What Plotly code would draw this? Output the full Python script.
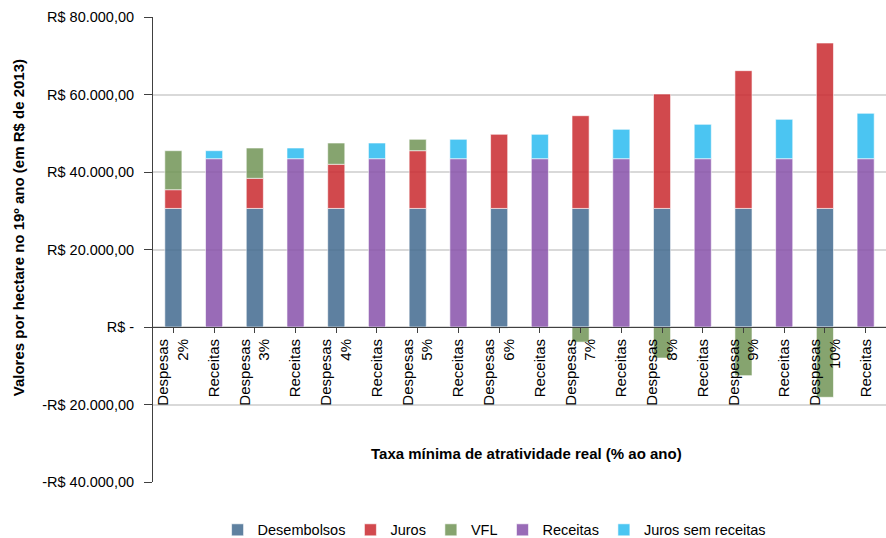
import plotly.graph_objects as go

# ---- data ----
taxas = ["2%", "3%", "4%", "5%", "6%", "7%", "8%", "9%", "10%"]
desembolsos = [30600, 30600, 30600, 30600, 30600, 30600, 30600, 30600, 30600]
juros = [4830, 7770, 11390, 14900, 19130, 23930, 29530, 35550, 42690]
vfl = [10070, 7820, 5490, 2940, -300, -3900, -8000, -12560, -18140]
receitas = [43430, 43430, 43430, 43430, 43430, 43430, 43430, 43430, 43430]
juros_sem_receitas = [2070, 2760, 4050, 5010, 6300, 7590, 8880, 10170, 11720]

y_tickvals = [-40000, -20000, 0, 20000, 40000, 60000, 80000]
y_ticktext = ["-R$ 40.000,00", "-R$ 20.000,00", "R$ -", "R$ 20.000,00",
              "R$ 40.000,00", "R$ 60.000,00", "R$ 80.000,00"]

# category positions: Despesas / Receitas alternate for each rate
x_desp = [2 * i for i in range(len(taxas))]
x_rec = [2 * i + 1 for i in range(len(taxas))]
tickvals = []
ticktext = []
for i, t in enumerate(taxas):
    tickvals += [x_desp[i], x_rec[i]]
    ticktext += ["Despesas<br>" + t, "Receitas"]

FONT = "Liberation Sans, Arial, sans-serif"
OP = 0.85
BW = 0.42
line = dict(color="rgba(255,255,255,0.6)", width=1)

fig = go.Figure()
fig.add_bar(name="Desembolsos", x=x_desp, y=desembolsos, width=BW,
            marker=dict(color="#436b90", line=line), opacity=OP)
fig.add_bar(name="Juros", x=x_desp, y=juros, width=BW,
            marker=dict(color="#ca2a2f", line=line), opacity=OP)
fig.add_bar(name="VFL", x=x_desp, y=vfl, width=BW,
            marker=dict(color="#719556", line=line), opacity=OP)
fig.add_bar(name="Receitas", x=x_rec, y=receitas, width=BW,
            marker=dict(color="#8852ab", line=line), opacity=OP)
fig.add_bar(name="Juros sem receitas", x=x_rec, y=juros_sem_receitas, width=BW,
            marker=dict(color="#2cbcf0", line=line), opacity=OP)

fig.update_layout(
    width=886, height=538,
    margin=dict(l=153, r=0, t=17, b=56, autoexpand=False),
    barmode="relative",
    paper_bgcolor="white", plot_bgcolor="white",
    font=dict(family=FONT, size=15, color="#000000"),
    showlegend=True,
    legend=dict(orientation="h", x=0.466, xanchor="center", y=-0.103,
                yanchor="middle", font=dict(size=14.5), itemwidth=30,
                traceorder="normal"),
    xaxis=dict(
        range=[-0.5, len(tickvals) - 0.5],
        tickmode="array", tickvals=tickvals, ticktext=ticktext,
        tickangle=-90, anchor="free", position=1/3,
        showline=True, linecolor="#404040", linewidth=1,
        ticks="outside", ticklen=5, tickcolor="#404040",
        showgrid=False, zeroline=False,
        tickfont=dict(size=15),
    ),
    yaxis=dict(
        range=[-40000, 80000],
        tickmode="array", tickvals=y_tickvals, ticktext=y_ticktext,
        showline=True, linecolor="#404040", linewidth=1,
        ticks="outside", ticklen=8, tickcolor="#404040",
        ticklabelstandoff=7,
        showgrid=True, gridcolor="#d9d9d9", gridwidth=1.5,
        zeroline=False,
        tickfont=dict(size=14.5),
    ),
    annotations=[
        dict(text="<b>Valores por hectare no 19º ano (em R$ de 2013)</b>",
             xref="paper", yref="paper", x=-0.184, y=0.546,
             xanchor="center", yanchor="middle", textangle=-90,
             showarrow=False, font=dict(size=15)),
        dict(text="<b>Taxa mínima de atratividade real (% ao ano)</b>",
             xref="paper", yref="paper", x=0.510, y=0.062,
             xanchor="center", yanchor="middle",
             showarrow=False, font=dict(size=15)),
    ],
)

fig.write_html("out.html")
